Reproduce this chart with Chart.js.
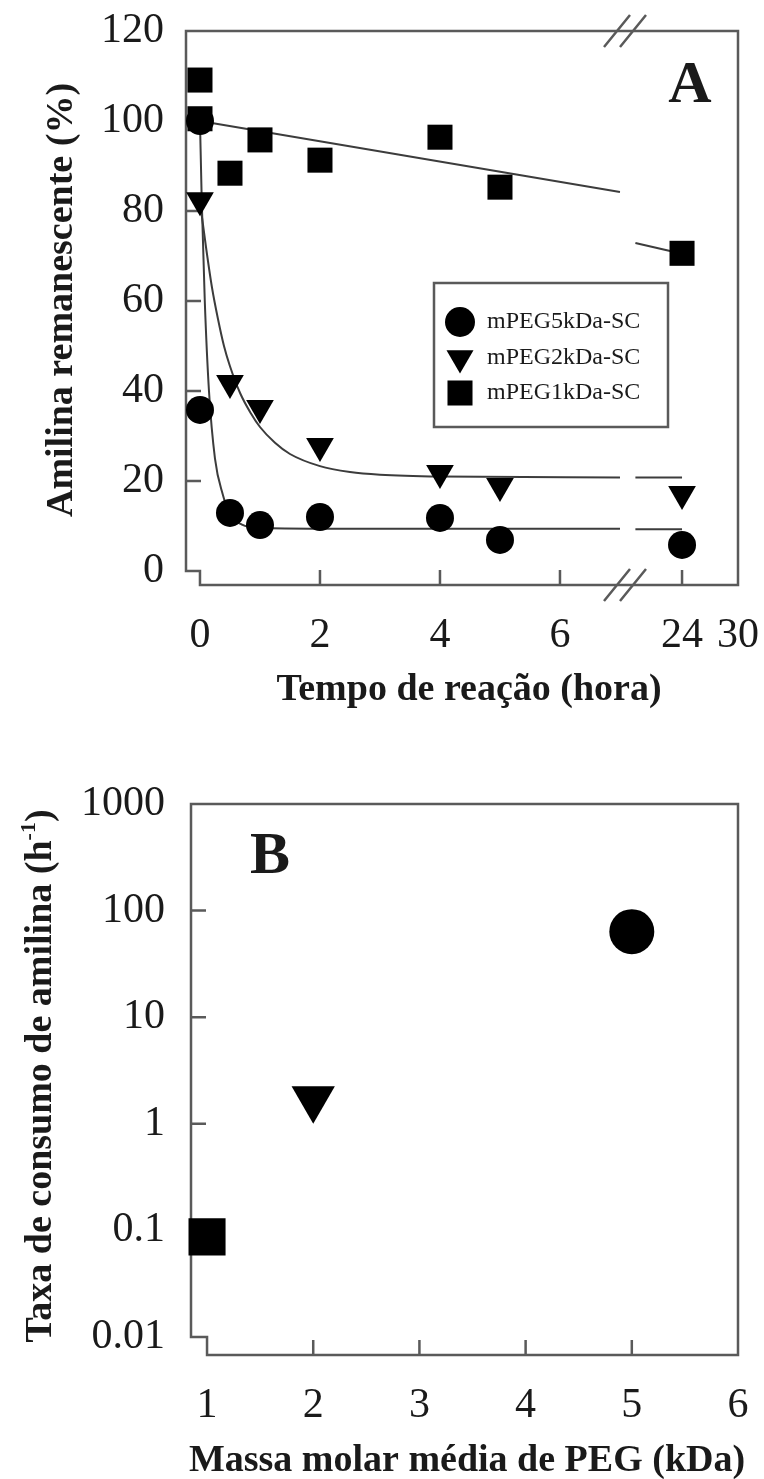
<!DOCTYPE html>
<html lang="pt">
<head>
<meta charset="utf-8">
<title>Amilina remanescente e taxa de consumo</title>
<script src="https://cdn.jsdelivr.net/npm/chart.js@4.4.1/dist/chart.umd.min.js"></script>
<style>
  html, body { margin: 0; padding: 0; background: #fff; }
  #wrap { position: relative; width: 764px; height: 1479px; }
  canvas { position: absolute; left: 0; }
  #chartA { top: 0; }
  #chartB { top: 730px; }
</style>
</head>
<body>
<div id="wrap">
  <canvas id="chartA" width="764" height="730"></canvas>
  <canvas id="chartB" width="764" height="749"></canvas>
</div>
<script>
// ---- A: amilina remanescente (%) x tempo de reação (h) ----
const hours5k = [0, 0, 0.5, 1, 2, 4, 5, 24];
const amylin5k = [100, 35.8, 12.9, 10.2, 12, 11.8, 6.9, 5.8];
const hours2k = [0, 0.5, 1, 2, 4, 5, 24];
const amylin2k = [82.4, 41.8, 36.2, 27.8, 21.8, 18.9, 17.1];
const hours1k = [0, 0, 0.5, 1, 2, 4, 5, 24];
const amylin1k = [109.1, 100.5, 88.4, 95.8, 91.3, 96.4, 85.3, 70.6];

// fitted curves
const fitHours5k = [0, 0.03, 0.08, 0.15, 0.25, 0.38, 0.5, 0.7, 1, 2, 7, 19, 24];
const fitAmylin5k = [100, 82, 60, 40, 25, 17, 12.5, 10.3, 9.6, 9.4, 9.4, 9.3, 9.3];
const fitHours2k = [0, 0.1, 0.2, 0.3, 0.4, 0.5, 0.67, 0.85, 1, 1.25, 1.5, 2, 2.5, 3, 4, 7, 19, 24];
const fitAmylin2k = [82, 72, 63, 56, 50, 45.5, 39.5, 35, 32, 28.5, 26, 23.3, 22, 21.4, 21, 20.8, 20.8, 20.8];
const fitHours1k = [0, 3.5, 7, 19, 24];
const fitAmylin1k = [100, 92.1, 84.2, 72.9, 70.5];

const seriesLabels = ['mPEG5kDa-SC', 'mPEG2kDa-SC', 'mPEG1kDa-SC'];
const yTicksA = [0, 20, 40, 60, 80, 100, 120];
const xTicksA = [0, 2, 4, 6];
const xTicksA2 = [24, 30];

// ---- B: taxa de consumo x massa molar ----
const pegMassKDa = [1, 2, 5];
const consumptionRate = [0.087, 1.72, 63.5];
const xTicksB = [1, 2, 3, 4, 5, 6];
const yTicksB = [0.01, 0.1, 1, 10, 100, 1000];
const yTickLabelsB = ['0.01', '0.1', '1', '10', '100', '1000'];

const SERIF = "'Liberation Serif', 'Times New Roman', serif";
const AXIS_COLOR = '#5a5a5a';
const FIT_COLOR = '#3c3c3c';
const INK = '#000';
const TEXT = '#1a1a1a';
const TICK_LEN = 15;

// broken time axis: 0..7 h on the left, 18..30 h on the right
const BREAK_FROM = 7.117;
const BREAK_TO = 18.1;
const early = h => h <= BREAK_FROM;
const late = h => h >= BREAK_TO;

function points(xs, ys, keep) {
  const out = [];
  xs.forEach((x, i) => { if (keep(x)) out.push({ x: x, y: ys[i] }); });
  return out;
}

// fixed axis boxes so the plot frame lands where it should
const fixHeight = h => s => { s.height = h; s.paddingLeft = 0; s.paddingRight = 0; };
const fixWidth = w => s => { s.width = w; s.paddingTop = 0; s.paddingBottom = 0; };

function drawMarker(ctx, style, r, rotationDeg, x, y) {
  ctx.beginPath();
  if (style === 'circle') {
    ctx.arc(x, y, r, 0, Math.PI * 2);
  } else if (style === 'rect') {
    const s = r * Math.SQRT1_2;
    ctx.rect(x - s, y - s, 2 * s, 2 * s);
  } else {
    let rad = rotationDeg * Math.PI / 180;
    for (let k = 0; k < 3; k++) {
      const px = x + Math.sin(rad) * r, py = y - Math.cos(rad) * r;
      if (k) ctx.lineTo(px, py); else ctx.moveTo(px, py);
      rad += 2 * Math.PI / 3;
    }
    ctx.closePath();
  }
  ctx.fill();
}

// rotated axis title, optionally with a superscript part
function drawYTitle(ctx, cx, cy, parts) {
  ctx.save();
  ctx.translate(cx, cy);
  ctx.rotate(-Math.PI / 2);
  let total = 0;
  parts.forEach(p => { ctx.font = p.font; total += ctx.measureText(p.text).width; });
  let x = -total / 2;
  ctx.textBaseline = 'alphabetic';
  ctx.textAlign = 'left';
  parts.forEach(p => {
    ctx.font = p.font;
    ctx.fillText(p.text, x, 13 - (p.raise || 0));
    x += ctx.measureText(p.text).width;
  });
  ctx.restore();
}

function panelPlugin(cfg) {
  return {
    id: 'panelDecor',
    beforeDatasetsDraw(chart) {
      const { ctx, chartArea: a, scales } = chart;
      const cornerX = scales.x.getPixelForValue(cfg.xOrigin);
      const cornerY = scales.y.getPixelForValue(cfg.yOrigin);
      ctx.save();
      ctx.strokeStyle = AXIS_COLOR;
      ctx.lineWidth = 2.5;
      ctx.beginPath();
      ctx.moveTo(cornerX, a.bottom);
      ctx.lineTo(a.right, a.bottom);
      ctx.lineTo(a.right, a.top);
      ctx.lineTo(a.left, a.top);
      ctx.lineTo(a.left, cornerY);
      ctx.lineTo(cornerX, cornerY);
      ctx.closePath();
      ctx.stroke();

      // tick marks point into the plot
      ctx.beginPath();
      cfg.yMarks.forEach(v => {
        const p = scales.y.getPixelForValue(v);
        ctx.moveTo(a.left, p);
        ctx.lineTo(a.left + TICK_LEN, p);
      });
      Object.keys(cfg.xMarks).forEach(id => {
        cfg.xMarks[id].forEach(v => {
          const p = scales[id].getPixelForValue(v);
          ctx.moveTo(p, a.bottom);
          ctx.lineTo(p, a.bottom - TICK_LEN);
        });
      });
      ctx.stroke();

      if (cfg.breakAfter) {
        const bx = scales[cfg.breakAfter].right - 2;
        ctx.beginPath();
        [a.top, a.bottom].forEach(by => {
          [-8, 8].forEach(off => {
            ctx.moveTo(bx + off - 13, by + 16);
            ctx.lineTo(bx + off + 13, by - 16);
          });
        });
        ctx.stroke();
      }
      ctx.restore();
    },
    afterDatasetsDraw(chart) {
      const { ctx } = chart;
      ctx.save();
      ctx.fillStyle = TEXT;

      ctx.font = 'bold 38px ' + SERIF;
      ctx.textAlign = 'center';
      ctx.textBaseline = 'middle';
      ctx.fillText(cfg.xTitle.text, cfg.xTitle.x, cfg.xTitle.y);
      drawYTitle(ctx, cfg.yTitle.x, cfg.yTitle.y, cfg.yTitle.parts);

      ctx.font = 'bold 60px ' + SERIF;
      ctx.textAlign = 'center';
      ctx.textBaseline = 'middle';
      ctx.fillText(cfg.letter.text, cfg.letter.x, cfg.letter.y);

      if (cfg.legend) {
        const L = cfg.legend;
        ctx.strokeStyle = AXIS_COLOR;
        ctx.lineWidth = 2.5;
        ctx.strokeRect(L.x, L.y, L.w, L.h);
        L.rows.forEach(row => {
          ctx.fillStyle = INK;
          drawMarker(ctx, row.style, row.radius, row.rotation, L.markerX, row.y);
          ctx.fillStyle = TEXT;
          ctx.font = '24px ' + SERIF;
          ctx.textAlign = 'left';
          ctx.textBaseline = 'middle';
          ctx.fillText(row.label, L.textX, row.y);
        });
      }
      ctx.restore();
    }
  };
}

const tickFont = { family: SERIF, size: 42 };
const noGrid = { display: false, drawTicks: false };
const noBorder = { display: false };

// ---------------- panel A ----------------
const seriesA = [
  { label: seriesLabels[0], hours: hours5k, values: amylin5k, fitHours: fitHours5k, fitValues: fitAmylin5k, style: 'circle', radius: 14, rotation: 0 },
  { label: seriesLabels[1], hours: hours2k, values: amylin2k, fitHours: fitHours2k, fitValues: fitAmylin2k, style: 'triangle', radius: 16, rotation: 180 },
  { label: seriesLabels[2], hours: hours1k, values: amylin1k, fitHours: fitHours1k, fitValues: fitAmylin1k, style: 'rect', radius: 17.7, rotation: 0 }
];

const datasetsA = [];
seriesA.forEach(s => {
  [['x', early], ['x2', late]].forEach(([axis, keep]) => {
    datasetsA.push({
      label: s.label,
      data: points(s.hours, s.values, keep),
      xAxisID: axis,
      showLine: false,
      pointStyle: s.style,
      pointRadius: s.radius,
      pointHoverRadius: s.radius,
      pointRotation: s.rotation,
      pointBackgroundColor: INK,
      pointBorderColor: INK,
      pointBorderWidth: 0,
      clip: false,
      order: 0
    });
    datasetsA.push({
      label: s.label + ' (ajuste)',
      data: points(s.fitHours, s.fitValues, keep),
      xAxisID: axis,
      showLine: true,
      pointRadius: 0,
      borderColor: FIT_COLOR,
      borderWidth: 2,
      cubicInterpolationMode: 'monotone',
      clip: false,
      order: 1
    });
  });
});

new Chart(document.getElementById('chartA'), {
  type: 'scatter',
  data: { datasets: datasetsA },
  options: {
    responsive: false,
    animation: false,
    devicePixelRatio: 1,
    events: [],
    layout: { autoPadding: false, padding: { left: 0, top: 31, right: 26, bottom: 0 } },
    plugins: { legend: { display: false }, tooltip: { enabled: false } },
    scales: {
      x: {
        type: 'linear', position: 'bottom', stack: 'hours', stackWeight: 441,
        min: -0.233, max: BREAK_FROM,
        afterBuildTicks: s => { s.ticks = xTicksA.map(v => ({ value: v })); },
        afterFit: fixHeight(145),
        ticks: { font: tickFont, color: TEXT, padding: 26, autoSkip: false, maxRotation: 0, minRotation: 0 },
        grid: noGrid, border: noBorder
      },
      x2: {
        type: 'linear', position: 'bottom', stack: 'hours', stackWeight: 111,
        min: BREAK_TO, max: 30,
        afterBuildTicks: s => { s.ticks = xTicksA2.map(v => ({ value: v })); },
        afterFit: fixHeight(145),
        ticks: { font: tickFont, color: TEXT, padding: 26, autoSkip: false, maxRotation: 0, minRotation: 0 },
        grid: noGrid, border: noBorder
      },
      y: {
        type: 'linear', position: 'left',
        min: -3.11, max: 120,
        afterBuildTicks: s => { s.ticks = yTicksA.map(v => ({ value: v })); },
        afterFit: fixWidth(186),
        ticks: { font: tickFont, color: TEXT, padding: 22 },
        grid: noGrid, border: noBorder
      }
    }
  },
  plugins: [panelPlugin({
    xOrigin: 0, yOrigin: 0,
    yMarks: [20, 40, 60, 80, 100],
    xMarks: { x: [2, 4, 6], x2: [24] },
    breakAfter: 'x',
    xTitle: { text: 'Tempo de reação (hora)', x: 469, y: 690 },
    yTitle: { x: 59, y: 300, parts: [{ text: 'Amilina remanescente (%)', font: 'bold 38px ' + SERIF }] },
    letter: { text: 'A', x: 690, y: 86 },
    legend: {
      x: 434, y: 283, w: 234, h: 144, markerX: 460, textX: 487,
      rows: [
        { label: seriesA[0].label, style: 'circle', radius: 15, rotation: 0, y: 322 },
        { label: seriesA[1].label, style: 'triangle', radius: 15.6, rotation: 180, y: 358 },
        { label: seriesA[2].label, style: 'rect', radius: 17.7, rotation: 0, y: 393 }
      ]
    }
  })]
});

// ---------------- panel B ----------------
new Chart(document.getElementById('chartB'), {
  type: 'scatter',
  data: {
    datasets: [{
      label: 'Taxa de consumo',
      data: pegMassKDa.map((m, i) => ({ x: m, y: consumptionRate[i] })),
      pointStyle: ['rect', 'triangle', 'circle'],
      pointRadius: [26.2, 25, 22.5],
      pointHoverRadius: [26.2, 25, 22.5],
      pointRotation: [0, 180, 0],
      pointBackgroundColor: INK,
      pointBorderColor: INK,
      pointBorderWidth: 0,
      clip: false
    }]
  },
  options: {
    responsive: false,
    animation: false,
    devicePixelRatio: 1,
    events: [],
    layout: { autoPadding: false, padding: { left: 0, top: 74, right: 26, bottom: 0 } },
    plugins: { legend: { display: false }, tooltip: { enabled: false } },
    scales: {
      x: {
        type: 'linear', position: 'bottom',
        min: 0.849, max: 6,
        afterBuildTicks: s => { s.ticks = xTicksB.map(v => ({ value: v })); },
        afterFit: fixHeight(124),
        ticks: { font: tickFont, color: TEXT, padding: 26, autoSkip: false, maxRotation: 0, minRotation: 0 },
        grid: noGrid, border: noBorder
      },
      y: {
        type: 'logarithmic', position: 'left',
        min: 0.00678, max: 1000,
        afterBuildTicks: s => { s.ticks = yTicksB.map(v => ({ value: v })); },
        afterFit: fixWidth(191),
        ticks: {
          font: tickFont, color: TEXT, padding: 26, autoSkip: false,
          callback: v => yTickLabelsB[yTicksB.indexOf(v)]
        },
        grid: noGrid, border: noBorder
      }
    }
  },
  plugins: [panelPlugin({
    xOrigin: 1, yOrigin: 0.01,
    yMarks: [0.1, 1, 10, 100],
    xMarks: { x: [2, 3, 4, 5] },
    xTitle: { text: 'Massa molar média de PEG (kDa)', x: 467, y: 731 },
    yTitle: {
      x: 38, y: 346,
      parts: [
        { text: 'Taxa de consumo de amilina (h', font: 'bold 38px ' + SERIF },
        { text: '-1', font: 'bold 22px ' + SERIF, raise: 16 },
        { text: ')', font: 'bold 38px ' + SERIF }
      ]
    },
    letter: { text: 'B', x: 270, y: 127 }
  })]
});
</script>
</body>
</html>
